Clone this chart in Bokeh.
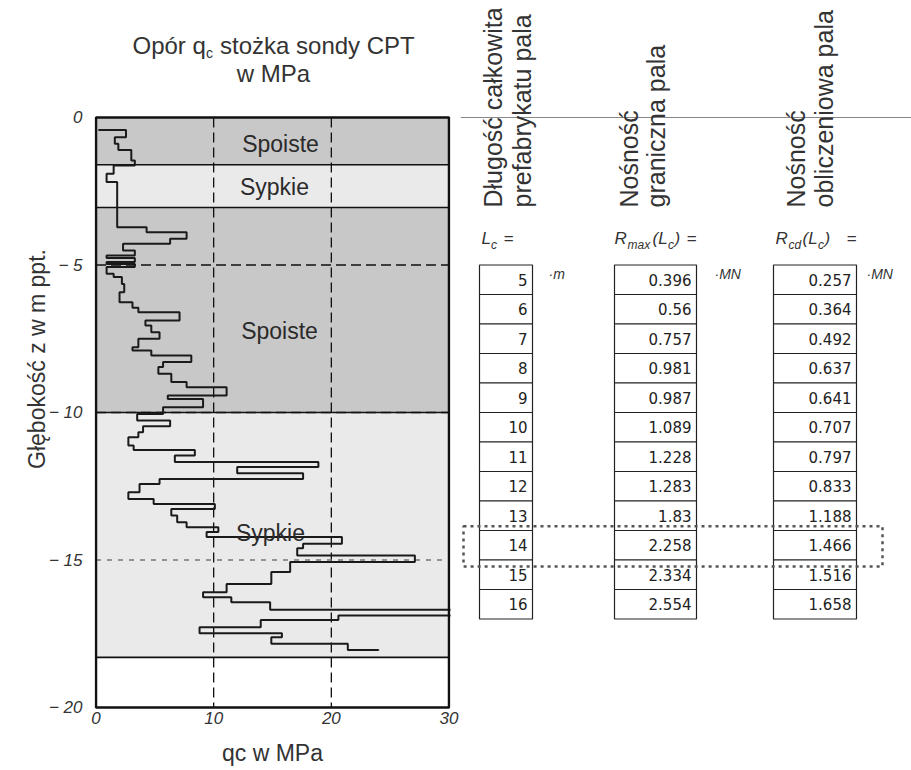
import math
from bokeh.plotting import figure
from bokeh.layouts import row
from bokeh.models import Range1d, FixedTicker, ColumnDataSource, CustomJSTickFormatter
from bokeh.core.properties import value
from bokeh.embed import file_html
from bokeh.resources import INLINE

# ---------------- data ----------------
# CPT profile: depth boundaries (m) and cone resistance qc (MPa) in each interval
cpt_start_qc = 0.2
cpt_depth = [0.42, 0.67, 0.89, 1.10, 1.46, 1.63, 1.91, 2.19, 3.72, 3.89, 4.11, 4.28,
             4.51, 4.68, 4.76, 4.90, 4.97, 5.07, 5.30, 5.41, 5.64, 5.92, 6.26, 6.45,
             6.60, 6.88, 7.05, 7.28, 7.50, 7.79, 7.90, 8.07, 8.29, 8.46, 8.69, 8.97,
             9.14, 9.42, 9.54, 9.82, 10.05, 10.27, 10.47, 10.67, 10.84, 11.12, 11.27,
             11.46, 11.68, 11.85, 12.06, 12.25, 12.42, 12.70, 12.93, 13.10, 13.27,
             13.49, 13.72, 13.89, 14.05, 14.22, 14.45, 14.60, 14.85, 15.07, 15.41,
             15.81, 16.09, 16.26, 16.43, 16.69, 16.88, 17.03, 17.28, 17.48, 17.62,
             17.84, 18.05, 18.07]
cpt_qc = [2.55, 1.6, 1.9, 3.0, 3.3, 1.5, 0.9, 1.8, 4.3, 7.7, 6.3, 2.3,
          3.3, 0.9, 3.3, 0.9, 3.3, 0.9, 1.5, 2.2, 2.4, 2.0, 3.1, 3.6,
          7.1, 4.2, 4.7, 5.4, 3.6, 3.1, 4.7, 8.1, 5.7, 5.3, 6.4, 7.7,
          11.1, 6.1, 9.1, 5.7, 3.5, 6.3, 4.0, 3.6, 2.75, 3.2, 8.4,
          6.7, 18.9, 12.0, 17.6, 5.4, 3.7, 2.75, 4.9, 10.1, 6.4,
          6.9, 7.7, 10.4, 9.4, 20.9, 17.6, 17.1, 27.1, 16.5, 14.9,
          11.1, 9.1, 11.5, 14.8, 31.0, 20.6, 14.0, 8.8, 15.8, 14.9,
          21.4, 24.0]

layer_top = [0.0, 1.6, 3.05, 10.0, 18.3]
layer_bottom = [1.6, 3.05, 10.0, 18.3, 20.0]
layer_soil = ["Spoiste", "Sypkie", "Spoiste", "Sypkie", ""]

x_ticks = [0, 10, 20, 30]
y_ticks = [0, -5, -10, -15, -20]

pile_length = [5, 6, 7, 8, 9, 10, 11, 12, 13, 14, 15, 16]
r_max = [0.396, 0.56, 0.757, 0.981, 0.987, 1.089, 1.228, 1.283, 1.83, 2.258, 2.334, 2.554]
r_cd = [0.257, 0.364, 0.492, 0.637, 0.641, 0.707, 0.797, 0.833, 1.188, 1.466, 1.516, 1.658]
chosen_length = 14

# ---------------- layout helpers ----------------
SX = 353 / 30.0      # px per MPa
SY = 29.5            # px per m of depth
def X(px):           # page x -> qc units (left figure)
    return (px - 95.5) / SX
def Y(py):           # page y -> (negative) depth units (both figures)
    return (117 - py) / SY

TOP_PAD = 8
SANS = value("Liberation Sans")
TXT = "#2a2a2a"
soil_color = {"Spoiste": "#c8c8c8", "Sypkie": "#eaeaea", "": "#ffffff"}

# ================= left figure: CPT profile =================
left = figure(frame_width=356, frame_height=701,
              x_range=Range1d(-1.5 / SX, 30 + 1.5 / SX),
              y_range=Range1d(-(701 - 109) / SY, 109 / SY),
              min_border_left=94, min_border_right=10, min_border_top=TOP_PAD,
              min_border_bottom=55, output_backend="svg", toolbar_location=None)
left.outline_line_color = None
left.grid.visible = False
left.background_fill_color = "white"

layer_src = ColumnDataSource(dict(
    top=[-t for t in layer_top], bottom=[-b for b in layer_bottom],
    color=[soil_color[s] for s in layer_soil]))
left.quad(left=0, right=30, top="top", bottom="bottom", fill_color="color",
          line_color=None, source=layer_src)

# layer boundaries
bnd = layer_bottom[:-1]
left.segment(x0=[0] * len(bnd), x1=[30] * len(bnd), y0=[-b for b in bnd],
             y1=[-b for b in bnd], line_color="#111", line_width=1.6)

# dashed reference lines
grid_q = [10, 20]
left.segment(x0=grid_q, x1=grid_q, y0=[0, 0], y1=[-20, -20], line_color="#111",
             line_width=1.3, line_dash="10 5")
left.segment(x0=[0, 0], x1=[30, 30], y0=[-5, -10], y1=[-5, -10], line_color="#111",
             line_width=1.3, line_dash="10 5")
left.segment(x0=[0], x1=[30], y0=[-15], y1=[-15], line_color="#777",
             line_width=1.4, line_dash="5 6")

# CPT step curve
xs = [cpt_start_qc]
ys = [-cpt_depth[0]]
for i, q in enumerate(cpt_qc):
    xs += [q, q]
    ys += [-cpt_depth[i], -cpt_depth[i + 1]]
left.line(xs, ys, line_color="#1a1a1a", line_width=2)

# frame box
left.quad(left=0, right=30, top=0, bottom=-20, fill_color=None, line_color="#111",
          line_width=2.5)

# soil labels
soil_lbl = [("Spoiste", 280, 143), ("Sypkie", 274, 186), ("Spoiste", 279, 330),
            ("Sypkie", 270, 532)]
left.text(x=[X(p[1]) for p in soil_lbl], y=[Y(p[2]) for p in soil_lbl],
          text=[p[0] for p in soil_lbl], text_align="center", text_baseline="middle",
          text_font=SANS, text_font_size="23px", text_color=TXT)

# title (two lines, with subscript c)
left.text(x=[X(132)], y=[Y(45)], text=["Opór q"], text_align="left",
          text_baseline="middle", text_font=SANS, text_font_size="24px",
          text_color="#333")
left.text(x=[X(205.5)], y=[Y(52)], text=["c"], text_align="left",
          text_baseline="middle", text_font=SANS, text_font_size="14px",
          text_color="#333")
left.text(x=[X(219.5)], y=[Y(45)], text=["stożka sondy CPT"], text_align="left",
          text_baseline="middle", text_font=SANS, text_font_size="24px",
          text_color="#333")
left.text(x=[X(273)], y=[Y(73)], text=["w MPa"], text_align="center",
          text_baseline="middle", text_font=SANS, text_font_size="24px",
          text_color="#333")

# axes
left.xaxis.ticker = FixedTicker(ticks=x_ticks)
left.yaxis.ticker = FixedTicker(ticks=y_ticks)
left.yaxis.formatter = CustomJSTickFormatter(
    code="return tick == 0 ? '0' : '\u2212 ' + Math.abs(tick).toFixed(0);")
left.yaxis.bounds = (-20, 0)
left.xaxis.axis_label = "qc w MPa"
left.yaxis.axis_label = "Głębokość z w m ppt."
for ax in (left.xaxis[0], left.yaxis[0]):
    ax.axis_line_color = None
    ax.major_tick_line_color = None
    ax.minor_tick_line_color = None
    ax.major_tick_out = 0
    ax.major_tick_in = 0
    ax.major_label_text_font = "Liberation Sans"
    ax.major_label_text_font_style = "italic"
    ax.major_label_text_font_size = "17px"
    ax.major_label_text_color = "#333"
    ax.axis_label_text_font = "Liberation Sans"
    ax.axis_label_text_font_style = "normal"
    ax.axis_label_text_color = "#333"
left.xaxis.major_label_standoff = 2
left.xaxis.axis_label_standoff = 13
left.xaxis.axis_label_text_font_size = "23px"
left.yaxis.major_label_standoff = 12
left.yaxis.axis_label_standoff = -4
left.yaxis.axis_label_text_font_size = "23px"

# ================= right figure: tables =================
right = figure(frame_width=451, frame_height=745,
               x_range=Range1d(460, 911),
               y_range=Range1d(-(745 - 109) / SY, 109 / SY),
               min_border=0, min_border_top=TOP_PAD,
               x_axis_location=None, y_axis_location=None,
               output_backend="svg", toolbar_location=None)
right.outline_line_color = None
right.grid.visible = False

# thin reference line at depth 0
right.segment(x0=[460], x1=[911], y0=[0], y1=[0], line_color="#888", line_width=1)

# rotated headers
headers = [("Długość całkowita", 492), ("prefabrykatu pala", 521),
           ("Nośność", 628), ("graniczna pala", 655),
           ("Nośność", 795), ("obliczeniowa pala", 823)]
right.text(x=[h[1] for h in headers], y=[Y(207)] * len(headers),
           text=[h[0] for h in headers], angle=math.pi / 2, text_align="left",
           text_baseline="middle", text_font=SANS, text_font_size="25px",
           text_color="#333")

# formula labels above the columns
main_parts = [("L", 481), ("=", 503),
              ("R", 614), ("(L", 652), (")", 674), ("=", 686),
              ("R", 775), ("(L", 802), (")", 824), ("=", 846)]
sub_parts = [("c", 490.5), ("max", 627), ("c", 667.5), ("cd", 788), ("c", 817.5)]
right.text(x=[p[1] for p in main_parts], y=[Y(238)] * len(main_parts),
           text=[p[0] for p in main_parts], text_align="left",
           text_baseline="middle", text_font=SANS, text_font_style="italic",
           text_font_size="17px", text_color="#333")
right.text(x=[p[1] for p in sub_parts], y=[Y(244)] * len(sub_parts),
           text=[p[0] for p in sub_parts], text_align="left",
           text_baseline="middle", text_font=SANS, text_font_style="italic",
           text_font_size="12px", text_color="#333")

# units next to first row
units = [("\u00b7m", 548), ("\u00b7MN", 714), ("\u00b7MN", 866)]
right.text(x=[u[1] for u in units], y=[-(pile_length[0] + 0.3)] * len(units),
           text=[u[0] for u in units], text_align="left", text_baseline="middle",
           text_font=SANS, text_font_style="italic", text_font_size="14px",
           text_color="#333")

# value boxes
columns = [([str(v) for v in pile_length], 479, 532),
           ([str(v) for v in r_max], 614, 696),
           ([str(v) for v in r_cd], 773, 856)]
tops = [-L for L in pile_length]
bots = [-(L + 1) for L in pile_length]
mids = [-(L + 0.5) for L in pile_length]
for labels, x0, x1 in columns:
    right.quad(left=x0, right=x1, top=tops, bottom=bots, fill_color="white",
               line_color="#222", line_width=1.2)
    right.text(x=[x1 - 5] * len(labels), y=mids, text=labels, text_align="right",
               text_baseline="middle", text_font=value("DejaVu Sans"),
               text_font_size="15px", text_color="#222")

# highlight of the chosen pile length
right.quad(left=463, right=882, top=-(chosen_length - 0.14),
           bottom=-(chosen_length + 1.22), fill_color=None, line_color="#555",
           line_width=2.5, line_dash="3 4")

layout = row(left, right)
open("out.html", "w").write(file_html(layout, INLINE))
